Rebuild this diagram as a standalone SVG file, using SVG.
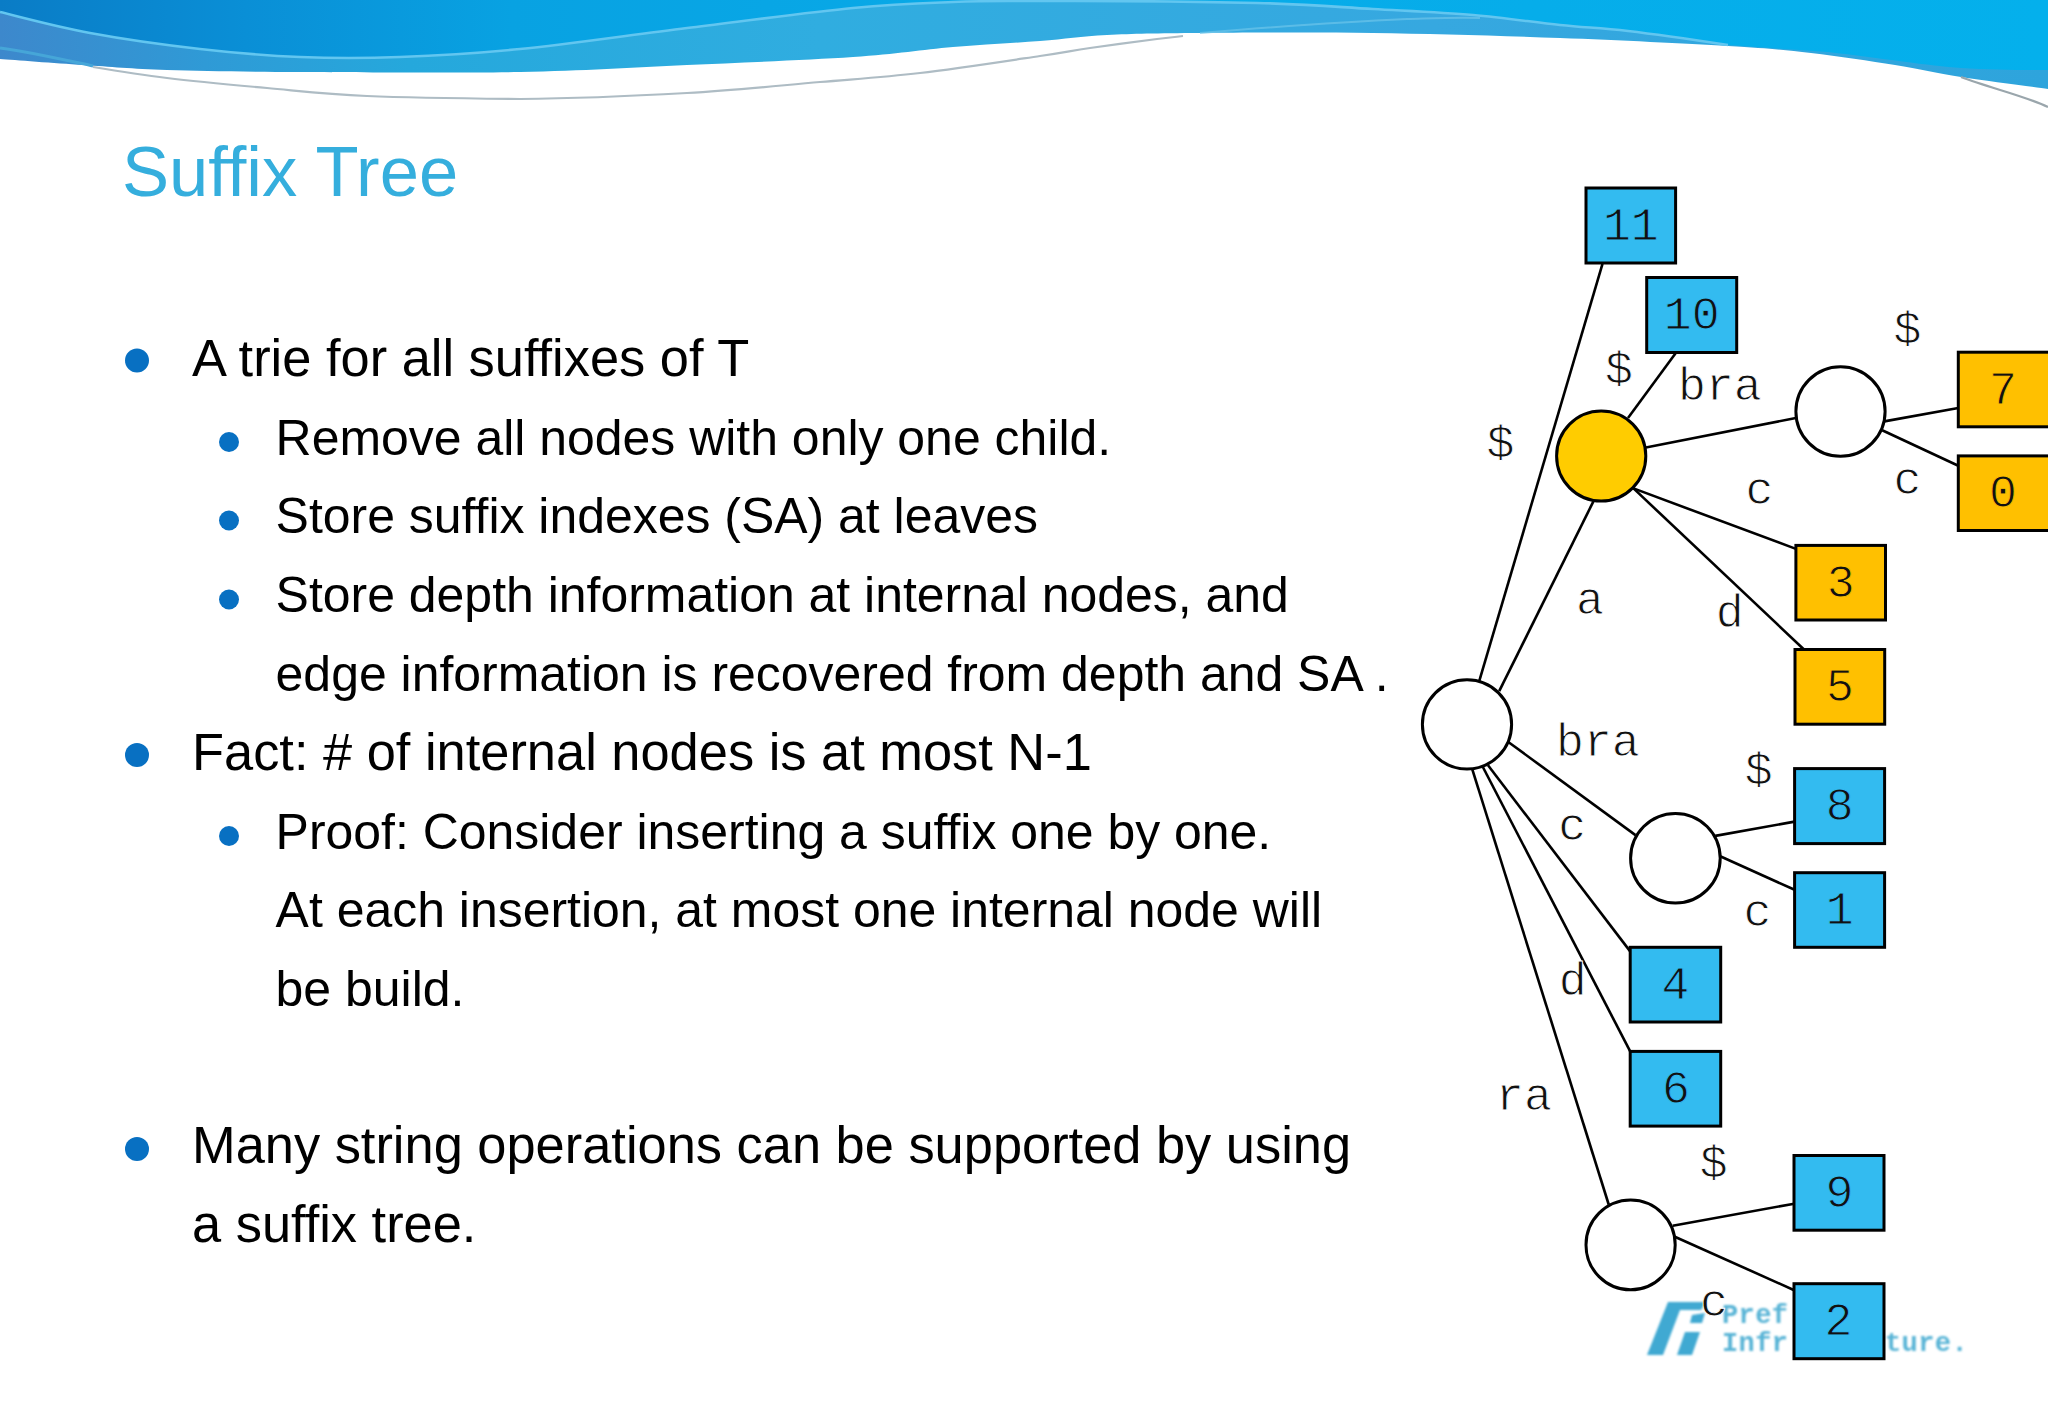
<svg xmlns="http://www.w3.org/2000/svg" width="2048" height="1418" viewBox="0 0 2048 1418">
<style>
.title{font:70.6px "Liberation Sans",Arial,sans-serif;fill:#35aedd}
.l1{font:52.4px "Liberation Sans",Arial,sans-serif;fill:#000}
.l2{font:49.95px "Liberation Sans",Arial,sans-serif;fill:#000}
.bu{fill:#0870c2}
.edge{stroke:#000;stroke-width:2.6;fill:none}
.lb{font:46.5px "Liberation Mono","Courier New",monospace;fill:#111;stroke:#fff;stroke-width:.9}
.mid{text-anchor:middle}
.blue{fill:#33bbf0;stroke:#000;stroke-width:3}
.gold{fill:#ffc000;stroke:#000;stroke-width:3}
.onb{stroke:#33bbf0}
.ong{stroke:#ffc000}
.circ{fill:#fff;stroke:#000;stroke-width:3}
.logo{font:bold 27px "Liberation Mono",monospace;fill:#58b4d6;letter-spacing:.4px}
</style>
<defs>
<linearGradient id="hd" gradientUnits="userSpaceOnUse" x1="0" y1="0" x2="2048" y2="0"><stop offset="0" stop-color="#0a7cc6"/><stop offset=".12" stop-color="#0a8fd6"/><stop offset=".25" stop-color="#08a2e2"/><stop offset=".5" stop-color="#08aae8"/><stop offset="1" stop-color="#04b0ec"/></linearGradient>
<linearGradient id="band" gradientUnits="userSpaceOnUse" x1="0" y1="0" x2="2048" y2="0"><stop offset="0" stop-color="#3d88cc"/><stop offset=".1" stop-color="#2f9ad6"/><stop offset=".2" stop-color="#25a8dc"/><stop offset=".4" stop-color="#30ade0"/><stop offset=".7" stop-color="#36a8e0"/><stop offset="1" stop-color="#2ea4dc"/></linearGradient>
<filter id="soft" x="-10%" y="-10%" width="120%" height="120%"><feGaussianBlur stdDeviation="1.1"/></filter>
</defs>
<rect width="2048" height="1418" fill="#fff"/>
<g id="header">
<path d="M0 0V59C14 60 55 63.2 83 65C111 66.800 131 68.800 167 70C203 71.200 241 71.700 300 72C359 72.300 456 73.200 520 72C584 70.800 631.500 67.500 687 65C742.500 62.500 808.700 60 853 57C897.300 54 921.800 49.700 953 47C984.200 44.300 1014.300 43 1040 41C1065.700 39 1080.300 36.300 1107 35C1133.700 33.700 1155.700 33.300 1200 33C1244.300 32.700 1313 32.200 1373 33C1433 33.800 1501 35.800 1560 38C1619 40.200 1686.200 43.500 1728 46C1769.800 48.500 1783.200 49.800 1811 53C1838.800 56.200 1870 61 1895 65C1920 69 1935.500 73 1961 77C1986.500 81 2034 87 2048 89V0Z" fill="url(#band)"/>
<path d="M0 12C15 15.500 56.700 26.800 90 33C123.300 39.200 165 45 200 49C235 53 266.700 55.700 300 57C333.300 58.300 363.300 58.300 400 57C436.700 55.700 472.200 53.800 520 49C567.800 44.200 631.500 34.800 687 28C742.500 21.200 808.700 12.300 853 8C897.300 3.700 921.800 3.200 953 2C984.200 .8 989.300 1.200 1040 1C1090.700 .8 1201.500 1.700 1257 3C1312.500 4.300 1337 7 1373 9C1409 11 1441.800 12.300 1473 15C1504.200 17.700 1534.200 22.300 1560 25C1585.800 27.700 1600 27.700 1628 31C1656 34.300 1695 40 1728 45C1770 48 1800 50 1828 52C1880 58 1930 66 1961 68C1990 70 2020 70 2048 70V0H0Z" fill="url(#hd)"/>
<path d="M0 12C15 15.500 56.700 26.800 90 33C123.300 39.200 165 45 200 49C235 53 266.700 55.700 300 57C333.300 58.300 363.300 58.300 400 57C436.700 55.700 472.200 53.800 520 49C567.800 44.200 631.500 34.800 687 28C742.500 21.200 808.700 12.300 853 8C897.300 3.700 921.800 3.200 953 2C984.200 .8 989.300 1.200 1040 1C1090.700 .8 1201.500 1.700 1257 3C1312.500 4.300 1337 7 1373 9C1409 11 1441.800 12.300 1473 15C1504.200 17.700 1534.200 22.300 1560 25C1585.800 27.700 1600 27.700 1628 31C1656 34.300 1695 40 1728 45" fill="none" stroke="#62c6f0" stroke-width="2.6"/>
<path d="M0 48C30 52 65 60 93 66" fill="none" stroke="#46a6d8" stroke-width="3"/>
<path d="M93 67C117 71 138 74.500 167 78C196 81.500 233.700 85 267 88C300.300 91 324.800 94.200 367 96C409.200 97.800 486.200 98.700 520 99C573 98.500 637 95.800 687 93C737 90.200 781.200 85.300 820 82C858.800 78.700 883.300 77.300 920 73C956.700 68.700 1011.700 60.200 1040 56C1068.300 51.800 1070.500 50.800 1090 48C1109.500 45.200 1141.500 41 1157 39C1170 37.500 1175 37 1183 36" fill="none" stroke="#aebcc4" stroke-width="2.2"/>
<path d="M1200 33C1260 28 1340 22 1407 19C1440 18 1460 17 1480 18" fill="none" stroke="#6cc4ea" stroke-width="2" opacity=".7"/>
<path d="M1961 77C1990 88 2025 96 2048 107" fill="none" stroke="#9aa6ac" stroke-width="2.2"/>
</g>
<text class="title" x="122" y="196">Suffix Tree</text>
<g id="bullets">
<ellipse class="bu" cx="137" cy="360.5" rx="12" ry="12"/>
<circle class="bu" cx="229" cy="442" r="10"/>
<circle class="bu" cx="229" cy="520.500" r="10"/>
<circle class="bu" cx="229" cy="599.500" r="10"/>
<ellipse class="bu" cx="137" cy="755" rx="12" ry="12"/>
<circle class="bu" cx="229" cy="836" r="10"/>
<ellipse class="bu" cx="137" cy="1149" rx="12" ry="12"/>
</g>
<g id="body">
<text class="l1" x="192" y="375.5">A trie for all suffixes of T</text>
<text class="l2" x="275.6" y="454.500">Remove all nodes with only one child.</text>
<text class="l2" x="275.6" y="533">Store suffix indexes (SA) at leaves</text>
<text class="l2" x="275.6" y="612.4">Store depth information at internal nodes, and</text>
<text class="l2" x="275.6" y="691.2">edge information is recovered from depth and SA .</text>
<text class="l1" x="192" y="769.5">Fact: # of internal nodes is at most N-1</text>
<text class="l2" x="275.6" y="848.5">Proof: Consider inserting a suffix one by one.</text>
<text class="l2" x="275.6" y="927.4">At each insertion, at most one internal node will</text>
<text class="l2" x="275.6" y="1006.4">be build.</text>
<text class="l1" x="192" y="1163">Many string operations can be supported by using</text>
<text class="l1" x="192" y="1242">a suffix tree.</text>
</g>
<g id="logo" filter="url(#soft)">
<path d="M1668 1302H1706L1701 1310H1680L1663 1355H1647Z M1692 1315L1705 1313L1702 1323L1690 1323Z M1685 1332H1700L1692 1355H1677Z" fill="#3fa9d2"/>
<text class="logo" x="1722" y="1323">Pref</text>
<text class="logo" x="1722" y="1351">Infr</text>
<text class="logo" x="1885" y="1351">ture.</text>
</g>
<g id="connectors">
<line class="edge" x1="1602.5" y1="263.8" x2="1479.3" y2="680.9"/>
<line class="edge" x1="1675.6" y1="353.3" x2="1628" y2="418"/>
<line class="edge" x1="1593.4" y1="501.4" x2="1499.2" y2="691.2"/>
<line class="edge" x1="1645.9" y1="447.5" x2="1795.9" y2="418"/>
<line class="edge" x1="1884.3" y1="421.4" x2="1958.3" y2="408"/>
<line class="edge" x1="1882.2" y1="430.2" x2="1958.3" y2="465.8"/>
<line class="edge" x1="1633.5" y1="488.4" x2="1795.9" y2="548.9"/>
<line class="edge" x1="1633.5" y1="488.4" x2="1804" y2="649.5"/>
<line class="edge" x1="1508.3" y1="742" x2="1635.5" y2="835.1"/>
<line class="edge" x1="1715.3" y1="835.9" x2="1794.6" y2="821.6"/>
<line class="edge" x1="1720.2" y1="856.3" x2="1794.6" y2="889.8"/>
<line class="edge" x1="1488" y1="765.3" x2="1630.2" y2="951.4"/>
<line class="edge" x1="1482.6" y1="766.5" x2="1630.2" y2="1051.4"/>
<line class="edge" x1="1472.3" y1="769.4" x2="1608.7" y2="1204.5"/>
<line class="edge" x1="1672.7" y1="1225.7" x2="1794.2" y2="1203.7"/>
<line class="edge" x1="1674.8" y1="1236.7" x2="1794.2" y2="1290.2"/>
</g>
<g id="edge-labels">
<text class="lb mid" x="1500.4" y="458">$</text>
<text class="lb mid" x="1619" y="384">$</text>
<text class="lb" x="1678" y="400">bra</text>
<text class="lb mid" x="1907.4" y="344">$</text>
<text class="lb mid" x="1759.5" y="504">c</text>
<text class="lb mid" x="1907.4" y="494">c</text>
<text class="lb mid" x="1590" y="614">a</text>
<text class="lb mid" x="1729.8" y="627">d</text>
<text class="lb" x="1556" y="755.5">bra</text>
<text class="lb mid" x="1758.7" y="785">$</text>
<text class="lb mid" x="1572.3" y="840">c</text>
<text class="lb mid" x="1757.4" y="926">c</text>
<text class="lb mid" x="1572.7" y="995">d</text>
<text class="lb" x="1496" y="1110">ra</text>
<text class="lb mid" x="1713.6" y="1178">$</text>
<text class="lb mid" x="1714" y="1316">c</text>
</g>
<g id="node-root"><ellipse class="circ" cx="1467" cy="724.4" rx="44.6" ry="44.6"/></g>
<g id="node-a"><ellipse cx="1601.2" cy="456" rx="44.6" ry="45" fill="#ffcc00" stroke="#000" stroke-width="3"/></g>
<g id="node-abra"><ellipse class="circ" cx="1840.5" cy="411.5" rx="44.6" ry="44.8"/></g>
<g id="node-bra"><ellipse class="circ" cx="1675.4" cy="858.2" rx="44.8" ry="44.8"/></g>
<g id="node-ra"><ellipse class="circ" cx="1630.6" cy="1244.9" rx="44.6" ry="44.9"/></g>
<g id="leaf-11"><rect class="blue" x="1586" y="188" width="89.6" height="75"/><text class="lb mid onb" x="1630.8" y="240">11</text></g>
<g id="leaf-10"><rect class="blue" x="1646.7" y="277.5" width="90" height="75"/><text class="lb mid onb" x="1691.7" y="329">10</text></g>
<g id="leaf-7"><rect class="gold" x="1958.3" y="352.2" width="92" height="74.6"/><text class="lb mid ong" x="2003" y="404">7</text></g>
<g id="leaf-0"><rect class="gold" x="1958.3" y="455.9" width="92" height="74.6"/><text class="lb mid ong" x="2003" y="507">0</text></g>
<g id="leaf-3"><rect class="gold" x="1795.9" y="545.4" width="89.6" height="74.6"/><text class="lb mid ong" x="1840.7" y="597">3</text></g>
<g id="leaf-5"><rect class="gold" x="1795" y="649.5" width="89.7" height="74.7"/><text class="lb mid ong" x="1840" y="701">5</text></g>
<g id="leaf-8"><rect class="blue" x="1794.6" y="768.6" width="90" height="75"/><text class="lb mid onb" x="1839.6" y="820">8</text></g>
<g id="leaf-1"><rect class="blue" x="1794.6" y="872.7" width="90" height="74.6"/><text class="lb mid onb" x="1839.6" y="924">1</text></g>
<g id="leaf-4"><rect class="blue" x="1630.2" y="947.3" width="90.5" height="74.7"/><text class="lb mid onb" x="1675.4" y="998.5">4</text></g>
<g id="leaf-6"><rect class="blue" x="1630.2" y="1051.4" width="90.5" height="74.7"/><text class="lb mid onb" x="1676" y="1103">6</text></g>
<g id="leaf-9"><rect class="blue" x="1794" y="1155.5" width="90" height="74.7"/><text class="lb mid onb" x="1839.5" y="1207">9</text></g>
<g id="leaf-2"><rect class="blue" x="1794" y="1283.7" width="90" height="75"/><text class="lb mid onb" x="1838.5" y="1335">2</text></g>
</svg>
